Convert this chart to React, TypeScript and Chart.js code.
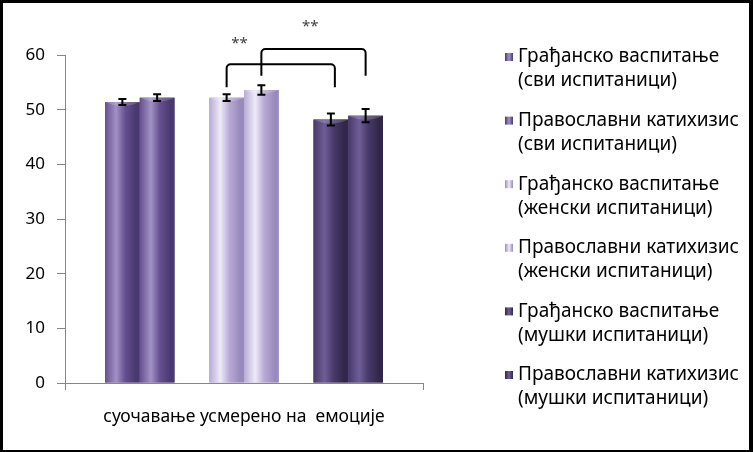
import React, { useEffect, useRef } from "react";
import { Chart, registerables } from "chart.js";
Chart.register(...registerables);

const categories = ["суочавање усмерено на  емоције"];
const seriesTitles = [
  "Грађанско васпитање",
  "Православни катихизис",
  "Грађанско васпитање",
  "Православни катихизис",
  "Грађанско васпитање",
  "Православни катихизис",
];
const seriesGroups = [
  "(сви испитаници)",
  "(сви испитаници)",
  "(женски испитаници)",
  "(женски испитаници)",
  "(мушки испитаници)",
  "(мушки испитаници)",
];
const means = [51.4, 52.2, 52.2, 53.6, 48.2, 48.9];
const errors = [0.55, 0.6, 0.6, 0.85, 1.1, 1.2];
const yMin = 0;
const yMax = 60;
const yStep = 10;

// slot order: series index, -1 = empty gap slot
const slotOrder = [0, 1, -1, 2, 3, -1, 4, 5];

const bracketFrom = [2, 3];
const bracketTo = [4, 5];
const bracketTop = [58.3, 61.1];
const bracketLegBottom = [54.1, 56.2];
const bracketText = ["**", "**"];
const bracketTextFrac = [0.12, 0.47];
const bracketTextY = [62.0, 65.1];

const seriesBase = ["#65508f", "#65508f", "#b8aad5", "#b8aad5", "#48396a", "#48396a"];
const seriesLight = ["#a192c6", "#a192c6", "#efeaf7", "#efeaf7", "#6e5e96", "#6e5e96"];
const seriesDark = ["#4a3970", "#4a3970", "#998abd", "#998abd", "#32274a", "#32274a"];

const FONT = "'Noto Sans', 'DejaVu Sans', sans-serif";

const W = 746;
const H = 447;

const overlayPlugin = {
  id: "overlay",
  afterDatasetsDraw(chart: any) {
    const ctx = chart.ctx;
    ctx.save();
    slotOrder.forEach((si, di) => {
      if (si < 0) return;
      const bar = chart.getDatasetMeta(di).data[0];
      if (!bar) return;
      const { x, y, base, width } = bar.getProps(["x", "y", "base", "width"], true);
      const l = x - width / 2;
      const g = ctx.createLinearGradient(l, 0, l + width, 0);
      g.addColorStop(0, seriesBase[si]);
      g.addColorStop(0.32, seriesLight[si]);
      g.addColorStop(0.58, seriesBase[si]);
      g.addColorStop(0.88, seriesDark[si]);
      g.addColorStop(1, seriesDark[si]);
      ctx.fillStyle = g;
      ctx.fillRect(l, y, width, base - y);
      // lighter top cap
      ctx.fillStyle = "rgba(255,255,255,0.18)";
      ctx.beginPath();
      ctx.moveTo(l, y);
      ctx.lineTo(l + width, y);
      ctx.quadraticCurveTo(x, y + 8, l, y);
      ctx.fill();
    });
    ctx.restore();
  },
  afterDraw(chart: any) {
    const ctx = chart.ctx;
    const ys = chart.scales.y;
    const barOf = (si: number) => chart.getDatasetMeta(slotOrder.indexOf(si)).data[0];
    ctx.save();
    // error bars
    ctx.strokeStyle = "#000";
    ctx.lineWidth = 2;
    means.forEach((m, si) => {
      const bar = barOf(si);
      if (!bar) return;
      const x = bar.x;
      const yt = ys.getPixelForValue(m + errors[si]);
      const yb = ys.getPixelForValue(m - errors[si]);
      ctx.beginPath();
      ctx.moveTo(x, yt);
      ctx.lineTo(x, yb);
      ctx.moveTo(x - 4, yt);
      ctx.lineTo(x + 4, yt);
      ctx.moveTo(x - 4, yb);
      ctx.lineTo(x + 4, yb);
      ctx.stroke();
    });
    // brackets
    bracketFrom.forEach((fromSi, k) => {
      const x1 = barOf(fromSi).x;
      const x2 = barOf(bracketTo[k]).x + (k === 0 ? 4 : 0);
      const yt = ys.getPixelForValue(bracketTop[k]);
      const yb = ys.getPixelForValue(bracketLegBottom[k]);
      const r = 4;
      ctx.beginPath();
      ctx.moveTo(x1, yb);
      ctx.lineTo(x1, yt + r);
      ctx.arcTo(x1, yt, x1 + r, yt, r);
      ctx.lineTo(x2 - r, yt);
      ctx.arcTo(x2, yt, x2, yt + r, r);
      ctx.lineTo(x2, yb);
      ctx.stroke();
      ctx.fillStyle = "#404040";
      ctx.font = `15px ${FONT}`;
      ctx.textAlign = "center";
      ctx.textBaseline = "middle";
      ctx.fillText(bracketText[k], x1 + (x2 - x1) * bracketTextFrac[k], ys.getPixelForValue(bracketTextY[k]));
    });
    // legend
    const sqX = 502;
    const txtX = 515;
    const firstY = 54;
    const entryGap = 63.6;
    const lineGap = 24;
    ctx.font = `19px ${FONT}`;
    ctx.textAlign = "left";
    ctx.textBaseline = "middle";
    seriesTitles.forEach((t, si) => {
      const cy = firstY + si * entryGap;
      const g = ctx.createLinearGradient(sqX, 0, sqX + 8, 0);
      g.addColorStop(0, seriesDark[si]);
      g.addColorStop(0.5, seriesLight[si]);
      g.addColorStop(1, seriesDark[si]);
      ctx.fillStyle = g;
      ctx.fillRect(sqX, cy - 4, 8, 8);
      ctx.fillStyle = "#000";
      ctx.fillText(t, txtX, cy);
      ctx.fillText(seriesGroups[si], txtX, cy + lineGap);
    });
    ctx.restore();
  },
};

export default function App() {
  const ref = useRef<HTMLCanvasElement>(null);
  useEffect(() => {
    if (!ref.current) return;
    const datasets = slotOrder.map((si) => ({
      label: si >= 0 ? seriesTitles[si] + " " + seriesGroups[si] : "",
      data: [si >= 0 ? means[si] : null],
      backgroundColor: si >= 0 ? seriesBase[si] : "rgba(0,0,0,0)",
      borderWidth: 0,
      barPercentage: 1.0,
      categoryPercentage: 0.7765,
    }));
    const chart = new Chart(ref.current, {
      type: "bar",
      data: { labels: categories, datasets },
      options: {
        animation: false,
        responsive: false,
        devicePixelRatio: 1,
        layout: { padding: { left: 0, top: 52, right: W - 420, bottom: 0 } },
        plugins: { legend: { display: false }, tooltip: { enabled: false } },
        scales: {
          x: {
            grid: { display: true, drawOnChartArea: false, offset: true, tickLength: 7, color: "#868686" },
            border: { color: "#868686", width: 1 },
            ticks: { color: "#000", font: { family: FONT, size: 17.5 }, padding: 17, maxRotation: 0 },
            afterFit: (s: any) => {
              s.height = H - 380;
            },
          },
          y: {
            min: yMin,
            max: yMax,
            ticks: { stepSize: yStep, color: "#000", font: { family: FONT, size: 17 }, padding: 12 },
            grid: { drawOnChartArea: false, tickLength: 8, color: "#868686" },
            border: { color: "#868686", width: 1 },
            afterFit: (s: any) => {
              s.width = 62;
            },
          },
        },
      },
      plugins: [overlayPlugin],
    });
    return () => chart.destroy();
  }, []);
  return (
    <div
      style={{
        position: "absolute",
        left: 0,
        top: 0,
        width: 753,
        height: 452,
        boxSizing: "border-box",
        borderStyle: "solid",
        borderColor: "#000",
        borderWidth: "3px 4px 2px 3px",
        background: "#fff",
      }}
    >
      <canvas ref={ref} width={W} height={H} style={{ display: "block", width: W, height: H }} />
    </div>
  );
}
